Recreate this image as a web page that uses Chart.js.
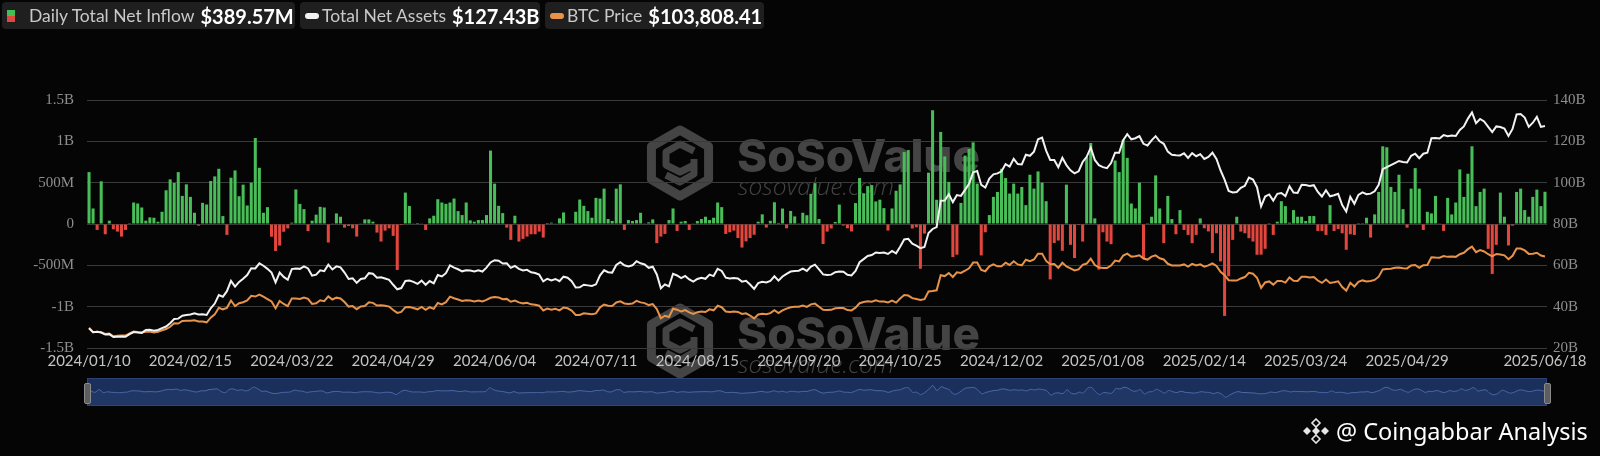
<!DOCTYPE html>
<html>
<head>
<meta charset="utf-8">
<script src="https://cdn.jsdelivr.net/npm/chart.js@4.4.1/dist/chart.umd.min.js"></script>
<style>
html, body { margin: 0; padding: 0; background: #050505; width: 1600px; height: 456px; overflow: hidden; }
#wrap { position: relative; width: 1600px; height: 456px; }
#main { position: absolute; left: 0; top: 0; }
#nav { position: absolute; left: 87px; top: 378px; background: #1a2f5a; box-shadow: inset 0 0 0 1px #2a4275; }
.item { position: absolute; top: 2px; height: 27px; background: #1f1f1f; border-radius: 4px; display: flex; align-items: center; font-family: Lato, sans-serif; white-space: nowrap; }
.lbl { color: #c9c9c9; font-size: 17.5px; }
.val { color: #fff; font-size: 20px; font-weight: bold; margin-left: 6px; }
.ico-bar { width: 8px; height: 12px; background: linear-gradient(#3fbf55 50%, #e0483f 50%); margin: 0 14px 0 5px; }
.pill { width: 14px; height: 6px; border-radius: 3px; margin: 0 3px 0 5px; }
.handle { position: absolute; top: 383px; width: 5px; height: 19px; background: #5e5e5e; border: 1px solid #8a8a8a; border-radius: 2px; }
#credit { position: absolute; left: 1302px; top: 415px; display: flex; align-items: center; color: #fff; font-family: "Noto Sans", sans-serif; font-size: 23.5px; }
</style>
</head>
<body>
<div id="wrap">
  <canvas id="main" width="1600" height="456"></canvas>
  <canvas id="nav" width="1460" height="28"></canvas>
  <div class="handle" style="left:84px"></div>
  <div class="handle" style="left:1544px"></div>

  <div class="item" style="left:2px;width:293px"><span class="ico-bar"></span><span class="lbl">Daily Total Net Inflow</span><span class="val">$389.57M</span></div>
  <div class="item" style="left:300px;width:240px"><span class="pill" style="background:#f2f2f2"></span><span class="lbl">Total Net Assets</span><span class="val">$127.43B</span></div>
  <div class="item" style="left:545px;width:219px"><span class="pill" style="background:#e8934a"></span><span class="lbl">BTC Price</span><span class="val">$103,808.41</span></div>

  <div id="credit">
    <svg width="28" height="26" viewBox="0 0 28 26" style="margin-right:6px">
      <g fill="#e6e6e6">
        <path d="M14 9 L18 13 L14 17 L10 13 Z"/>
        <path d="M14 1 L18 5 L14 9 L10 5 Z" fill="none" stroke="#e6e6e6" stroke-width="1.6"/>
        <path d="M14 17 L18 21 L14 25 L10 21 Z" fill="none" stroke="#e6e6e6" stroke-width="1.6"/>
        <path d="M5 9 L9 13 L5 17 L1 13 Z"/>
        <path d="M23 9 L27 13 L23 17 L19 13 Z"/>
      </g>
    </svg>
    <span>@ Coingabbar Analysis</span>
  </div>
</div>

<script>
// daily net inflow, $M, one value per trading day (2024/01/10 .. 2025/06/18)
const dailyInflow = [
  628, 188, -72, 516, -124, 40, -64, -92, -152, -72,
  10, 260, 248, 200, 40, 80, 76, 28, 148, 408,
  540, 496, 628, 340, 480, 328, 136, -20, 256, 236,
  520, 576, 668, 96, -132, 560, 648, 336, 476, 224,
  500, 1040, 680, 136, 204, -154, -326, -261, -94, -53,
  16, 418, 243, 180, -86, 40, 113, 208, 200, -224,
  4, 128, 88, -44, -24, -52, -152, 4, 56, 56,
  28, -104, -212, -80, -52, -144, -556, -12, 380, 218,
  8, 12, 4, -72, 68, 100, 300, 260, 244, 260,
  308, 156, 108, 260, 44, 28, 48, 48, 108, 888,
  488, 220, 132, -44, -192, 100, -212, -180, -152, -124,
  -124, -92, -164, 12, 16, 8, 68, 140, 4, 4,
  148, 296, 220, 156, 76, 316, 308, 428, 60, 36,
  428, 480, -72, 48, 36, 48, 136, 4, 20, 56,
  -232, -152, -120, 48, 188, -84, 28, 36, -72, 8,
  36, 60, 88, 48, 76, 260, 204, -120, -100, -80,
  -170, -285, -210, -170, -130, 28, 117, -43, 39, 263,
  13, 187, -52, 158, 92, 9, 136, 106, 365, 494,
  60, -242, -92, -54, 25, 235, -19, -52, -90, 253,
  556, 371, 458, 470, 273, 294, 192, -79, 188, 402,
  479, 870, 894, -54, -40, -541, -116, 621, 1376, 293,
  1114, 817, 510, -400, -371, 255, 828, 908, 988, 488,
  -380, -100, 108, 328, 388, 668, 556, 368, 488, 368,
  448, 228, 596, 428, 636, 500, 276, -670, -230, -200,
  -324, 476, -252, -412, -12, -212, 808, 980, 68, -552,
  -100, -212, -244, 768, 628, 1020, 800, 248, 188, 500,
  -412, 10, 88, 588, 188, -232, 340, 60, -124, 168,
  -72, -132, -232, -132, 68, -52, -90, -352, -112, -452,
  -1112, -632, -192, 88, -92, -112, -172, -212, -372, -371,
  -300, 10, -132, 28, 276, 216, 16, 168, 88, 88,
  36, 96, 96, -84, -84, -132, 228, -84, -60, -112,
  -312, -124, -132, 2, 2, 76, -164, 116, 388, 940,
  928, 448, 388, 596, 180, -44, 428, 676, 428, -72,
  148, 128, 340, 4, -84, 316, 116, 260, 660, 328,
  608, 940, 216, 388, 428, -300, -604, -252, 380, 88,
  -260, -20, 388, 428, 168, 88, 328, 416, 216, 390
];

// total net assets, $B, by quarter
const assets2024a = [
  29.5, 27.6, 27.8, 27.5, 26.5, 26.7, 25.3, 25.5, 25.6, 25.5, 26.7, 27.7, 27.5, 27.3,
  28.7, 28.8, 28.4, 28.7, 29.6, 30.4, 32.0, 34.0, 34.2, 35.6, 36.0, 36.2, 36.8, 36.2, 36.3, 36.0, 39.2, 41.5, 45.6, 44.8,
  47.5, 52.5, 49.7, 52.0, 53.5, 55.3, 58.6, 58.5, 61.0, 59.8, 58.3, 56.5, 51.8, 56.5, 54.4, 53.0, 58.2, 58.5, 58.3, 59.5
];
const assets2024b = [
  58.5, 55.0, 55.5, 57.6, 57.2, 60.3, 58.0, 59.5, 59.0, 56.5, 53.4, 53.7, 51.5, 53.4, 53.7, 56.2, 55.9, 54.0, 54.2, 53.6, 53.0, 50.6,
  48.4, 49.0, 52.4, 52.6, 52.0, 51.0, 52.6, 50.6, 52.4, 51.3, 55.3, 54.6, 56.2, 60.0, 58.9, 58.1, 57.1, 57.6, 57.5, 57.0, 57.6, 57.0,
  58.9, 61.4, 62.5, 62.2, 60.9, 61.0, 58.8, 59.7, 58.3, 57.5, 57.8, 56.6, 56.3, 55.5, 52.2, 53.5, 52.7, 53.4, 52.3
];
const assets2024c = [
  54.5, 54.0, 52.3, 49.3, 49.4, 50.6, 50.3, 50.0, 50.8, 55.2, 57.6, 56.7, 56.5, 60.2, 61.5, 60.0, 59.5, 60.0, 62.0, 61.0, 60.4, 58.8,
  59.3, 55.6, 48.9, 50.8, 49.8, 55.9, 55.1, 53.8, 54.9, 53.2, 52.1, 53.4, 54.0, 53.5, 55.5, 54.8, 58.3, 57.3, 54.0, 53.6, 53.9, 53.6,
  52.1, 52.5, 50.7, 48.6, 51.4, 52.0, 51.7, 52.5, 54.7, 52.6, 54.6, 55.9, 57.0, 57.3, 57.4, 58.4, 57.3, 59.4, 60.3, 58.0
];
const assets2024d = [
  55.6, 55.3, 55.5, 56.7, 57.0, 56.9, 55.4, 55.1, 57.3, 61.5, 63.0, 64.5, 65.0, 66.2, 66.0, 66.2, 65.5, 67.0, 65.8, 69.0, 72.5, 72.8, 70.5,
  69.5, 68.3, 68.9, 75.6, 77.6, 78.5, 91.3, 91.4, 94.4, 90.6, 94.0, 93.6, 96.5, 99.4, 105.0, 105.6, 98.9, 97.6, 102.0, 104.0,
  104.5, 105.5, 109.0, 107.8, 111.5, 109.0, 108.8, 113.5, 113.0, 115.0, 121.0, 121.8, 115.5, 111.0, 111.0, 107.5, 112.0, 108.5, 106.0, 104.5, 105.5
];
const assets2025a = [
  110.0, 112.5, 117.0, 111.0, 108.5, 107.5, 107.0, 109.5, 114.5, 114.5, 120.5, 123.5, 121.0, 121.5, 122.5, 118.8, 118.0, 120.5, 122.5, 120.0,
  118.8, 115.0, 113.5, 113.3, 113.2, 114.2, 112.0, 114.3, 112.8, 113.8, 111.5, 112.5, 114.5, 111.5, 106.0, 101.5, 96.0, 95.3, 95.5,
  97.5, 98.5, 102.5, 101.5, 97.8, 88.5, 93.3, 94.3, 91.3, 94.6, 95.0, 93.5, 98.3, 95.2, 95.0, 99.0, 98.9, 98.4, 98.8, 95.5, 93.3
];
const assets2025b = [
  96.3, 93.4, 93.9, 94.6, 89.2, 86.0, 93.2, 89.8, 94.1, 95.3, 94.4, 94.7, 95.8, 99.0, 106.5, 107.5, 108.5, 109.5, 110.5, 110.0, 109.8,
  113.0, 114.0, 111.8, 114.0, 114.5, 121.5, 121.6, 121.4, 123.0, 122.5, 122.8, 122.6, 125.5, 127.2, 131.0, 134.0, 128.8, 130.8, 129.6, 127.0, 124.5,
  127.2, 126.9, 126.2, 122.6, 126.0, 133.0, 133.2, 131.5, 127.0, 129.0, 131.8, 127.0, 127.43
];
const netAssets = [...assets2024a, ...assets2024b, ...assets2024c, ...assets2024d, ...assets2025a, ...assets2025b];

// BTC price, $, by quarter
const btc2024q1 = [
  46300, 42800, 43100, 42700, 41300, 41600, 39500, 39800, 40100, 40000, 41800, 43300, 42900, 42600,
  43100, 43200, 42600, 43100, 44300, 45300, 47100, 50000, 49700, 51800, 52000, 51900, 52300, 51400, 51300, 50700, 54500, 57100, 62500, 61200,
  62400, 68300, 63800, 66100, 66900, 68300, 72100, 71500, 73100, 71400, 69500, 67600, 62000, 67900, 65500, 63800, 70000, 69900, 69500, 70700
];
const btc2024q2 = [
  69700, 65500, 66000, 68500, 67800, 71600, 69100, 70600, 70000, 67100, 63400, 63800, 61300, 63500, 63800, 66800, 66400, 64300, 64500, 64000, 63400, 60600,
  58300, 59100, 62900, 63100, 62300, 61200, 63100, 60800, 62900, 61600, 66300, 65200, 67000, 71400, 70100, 69100, 67900, 68500, 68300, 67600, 68300, 67500,
  68800, 70500, 71100, 70800, 69300, 69600, 67300, 68200, 66800, 66000, 66500, 65200, 64900, 64100, 60300, 61800, 60800, 61600, 60300
];
const btc2024q3 = [
  62700, 62000, 60200, 56700, 56700, 58000, 57700, 57300, 57900, 62800, 65100, 64100, 63900, 66700, 67600, 65900, 65400, 65800, 68000, 66800, 66200, 64600,
  65400, 61400, 54000, 56000, 55000, 61700, 60900, 59400, 60600, 58700, 57500, 58900, 59500, 59000, 61200, 60400, 64100, 62900, 59400, 59000, 59400, 59100,
  57500, 58000, 56200, 53900, 57000, 57600, 57300, 58100, 60500, 58200, 60300, 61800, 62900, 63200, 63300, 64300, 63100, 65200, 65800, 63300
];
const btc2024q4 = [
  60800, 60600, 60800, 62100, 62300, 62200, 60600, 60300, 62500, 66100, 67100, 67600, 67400, 68400, 67400, 67400, 66700, 68200, 66600, 69900, 72700, 72300, 70200,
  69500, 68800, 69400, 75600, 75900, 76500, 88700, 88000, 90500, 87300, 91100, 90500, 92300, 94300, 98900, 98900, 93000, 91900, 95900, 97500,
  95900, 96000, 98800, 97000, 99900, 97400, 96700, 101200, 100000, 101400, 106100, 106100, 100200, 97500, 97800, 94700, 98700, 95800, 94200, 92600, 93400
];
const btc2025q1 = [
  97000, 98100, 102100, 96900, 95000, 94600, 94500, 96500, 100500, 99800, 104500, 106100, 103700, 104000, 104800, 102100, 101300, 103700, 104700, 102400,
  101400, 97900, 96600, 96600, 96500, 97400, 95700, 97900, 96600, 97500, 95600, 96600, 98300, 96100, 91400, 88700, 84700, 84400, 84400,
  86100, 87200, 90600, 89900, 86700, 78500, 82900, 83700, 81100, 84000, 84100, 82700, 86900, 84200, 84000, 87500, 87400, 86900, 87200, 84400, 82500
];
const btc2025q2 = [
  85200, 82500, 83100, 83800, 79100, 76300, 82600, 79600, 83400, 84500, 83600, 84000, 84900, 87500, 93400, 93700, 93900, 94700, 95000, 94300, 94200,
  96500, 96900, 94700, 96800, 97000, 103200, 102900, 102800, 104100, 103500, 103700, 103500, 105600, 106800, 109700, 111700, 107300, 108900, 107800, 105600, 103900,
  105800, 105400, 104700, 101600, 104400, 110300, 110200, 108700, 105900, 106100, 106800, 104600, 103808
];
const btcPrice = [...btc2024q1, ...btc2024q2, ...btc2024q3, ...btc2024q4, ...btc2025q1, ...btc2025q2];

// x-axis labels, one every 25 trading days, plus the last day
const tickLabels = ['2024/01/10', '2024/02/15', '2024/03/22', '2024/04/29', '2024/06/04', '2024/07/11', '2024/08/15',
  '2024/09/20', '2024/10/25', '2024/12/02', '2025/01/08', '2025/02/14', '2025/03/24', '2025/04/29'];
const lastLabel = '2025/06/18';
const categories = dailyInflow.map((_, i) => i);

const GREEN = '#48bd58';
const RED = '#e2463d';

function xTick(v) {
  if (v === categories.length - 1) return lastLabel;
  if (v % 25 === 0 && v / 25 < tickLabels.length) return tickLabels[v / 25];
  return null;
}

function flowTick(v) {
  if (v === 0) return '0';
  return Math.abs(v) >= 1000 ? (v / 1000) + 'B' : v + 'M';
}

// SoSoValue watermark, drawn behind everything
function drawMark(c, cx, cy, textY) {
  c.save();
  c.strokeStyle = '#444';
  c.fillStyle = '#444';
  c.lineJoin = 'round';
  const r = 33;
  c.lineWidth = 9;
  c.beginPath();
  for (let k = 0; k < 6; k++) {
    const a = Math.PI / 3 * k - Math.PI / 2;
    const px = cx + r * Math.cos(a), py = cy + r * Math.sin(a);
    if (k === 0) c.moveTo(px, py); else c.lineTo(px, py);
  }
  c.closePath();
  c.stroke();
  c.lineWidth = 7;
  c.beginPath();
  c.moveTo(cx + 14, cy - 12);
  c.lineTo(cx, cy - 19);
  c.lineTo(cx - 14, cy - 11);
  c.lineTo(cx - 14, cy + 2);
  c.lineTo(cx, cy + 9);
  c.lineTo(cx + 14, cy + 2);
  c.moveTo(cx + 14, cy - 4);
  c.lineTo(cx + 14, cy + 11);
  c.lineTo(cx, cy + 19);
  c.lineTo(cx - 14, cy + 12);
  c.stroke();

  c.textBaseline = 'alphabetic';
  c.font = '800 60px Inter';
  const w1 = c.measureText('SoSoValue').width;
  c.font = '800 ' + (60 * 243 / w1) + 'px Inter';
  c.fillText('SoSoValue', 737, textY);
  c.font = 'italic 300 26px "Open Sans"';
  const w2 = c.measureText('sosovalue.com').width;
  c.font = 'italic 300 ' + (26 * 156 / w2) + 'px "Open Sans"';
  c.fillText('sosovalue.com', 738, textY + 23);
  c.restore();
}

const watermark = {
  id: 'watermark',
  beforeDraw(chart) {
    drawMark(chart.ctx, 680, 163, 172);
    drawMark(chart.ctx, 680, 341, 350);
  }
};

new Chart(document.getElementById('main'), {
  data: {
    labels: categories,
    datasets: [
      {
        type: 'line', label: 'Total Net Assets', data: netAssets, yAxisID: 'yAssets',
        borderColor: '#f2f2f2', borderWidth: 2, pointRadius: 0, tension: 0, order: 0
      },
      {
        type: 'line', label: 'BTC Price', data: btcPrice, yAxisID: 'yPrice',
        borderColor: '#e8934a', borderWidth: 2, pointRadius: 0, tension: 0, order: 1
      },
      {
        type: 'bar', label: 'Daily Total Net Inflow', data: dailyInflow, yAxisID: 'yFlow',
        backgroundColor: dailyInflow.map(v => v >= 0 ? GREEN : RED),
        barPercentage: 0.75, categoryPercentage: 1, order: 2
      }
    ]
  },
  options: {
    responsive: false,
    animation: false,
    devicePixelRatio: 1,
    layout: { padding: { top: 100, bottom: 78, left: 0, right: 0 } },
    plugins: { legend: { display: false }, tooltip: { enabled: false } },
    scales: {
      x: {
        type: 'category',
        offset: true,
        grid: { display: false, drawTicks: false },
        border: { display: false },
        ticks: { autoSkip: false, maxRotation: 0, padding: 4, color: '#c4c4c4', font: { family: 'Lato', size: 15 }, callback: xTick },
        afterFit: s => { s.height = 30; }
      },
      yFlow: {
        position: 'left', min: -1500, max: 1500,
        grid: { color: '#3a3a3a', drawTicks: false },
        border: { display: false },
        ticks: { stepSize: 500, padding: 13, color: '#8e8e8e', font: { family: 'Liberation Serif', size: 15 }, callback: flowTick },
        afterFit: s => { s.width = 87; }
      },
      yAssets: {
        position: 'right', min: 20, max: 140,
        grid: { display: false, drawTicks: false },
        border: { display: false },
        ticks: { stepSize: 20, padding: 6, color: '#8e8e8e', font: { family: 'Liberation Serif', size: 15 }, callback: v => v + 'B' },
        afterFit: s => { s.width = 53; }
      },
      yPrice: { display: false, min: 30000, max: 230000 }
    }
  },
  plugins: [watermark]
});

// data zoom strip under the chart
new Chart(document.getElementById('nav'), {
  type: 'line',
  data: {
    labels: categories,
    datasets: [{
      data: dailyInflow, borderColor: '#4a68a8', borderWidth: 1, pointRadius: 0, tension: 0.3,
      fill: 'start', backgroundColor: 'rgba(50,80,140,0.25)'
    }]
  },
  options: {
    responsive: false,
    animation: false,
    devicePixelRatio: 1,
    layout: { padding: 0 },
    plugins: { legend: { display: false }, tooltip: { enabled: false } },
    scales: {
      x: { display: false },
      y: { display: false, min: -3000, max: 3000 }
    }
  }
});
</script>
</body>
</html>
